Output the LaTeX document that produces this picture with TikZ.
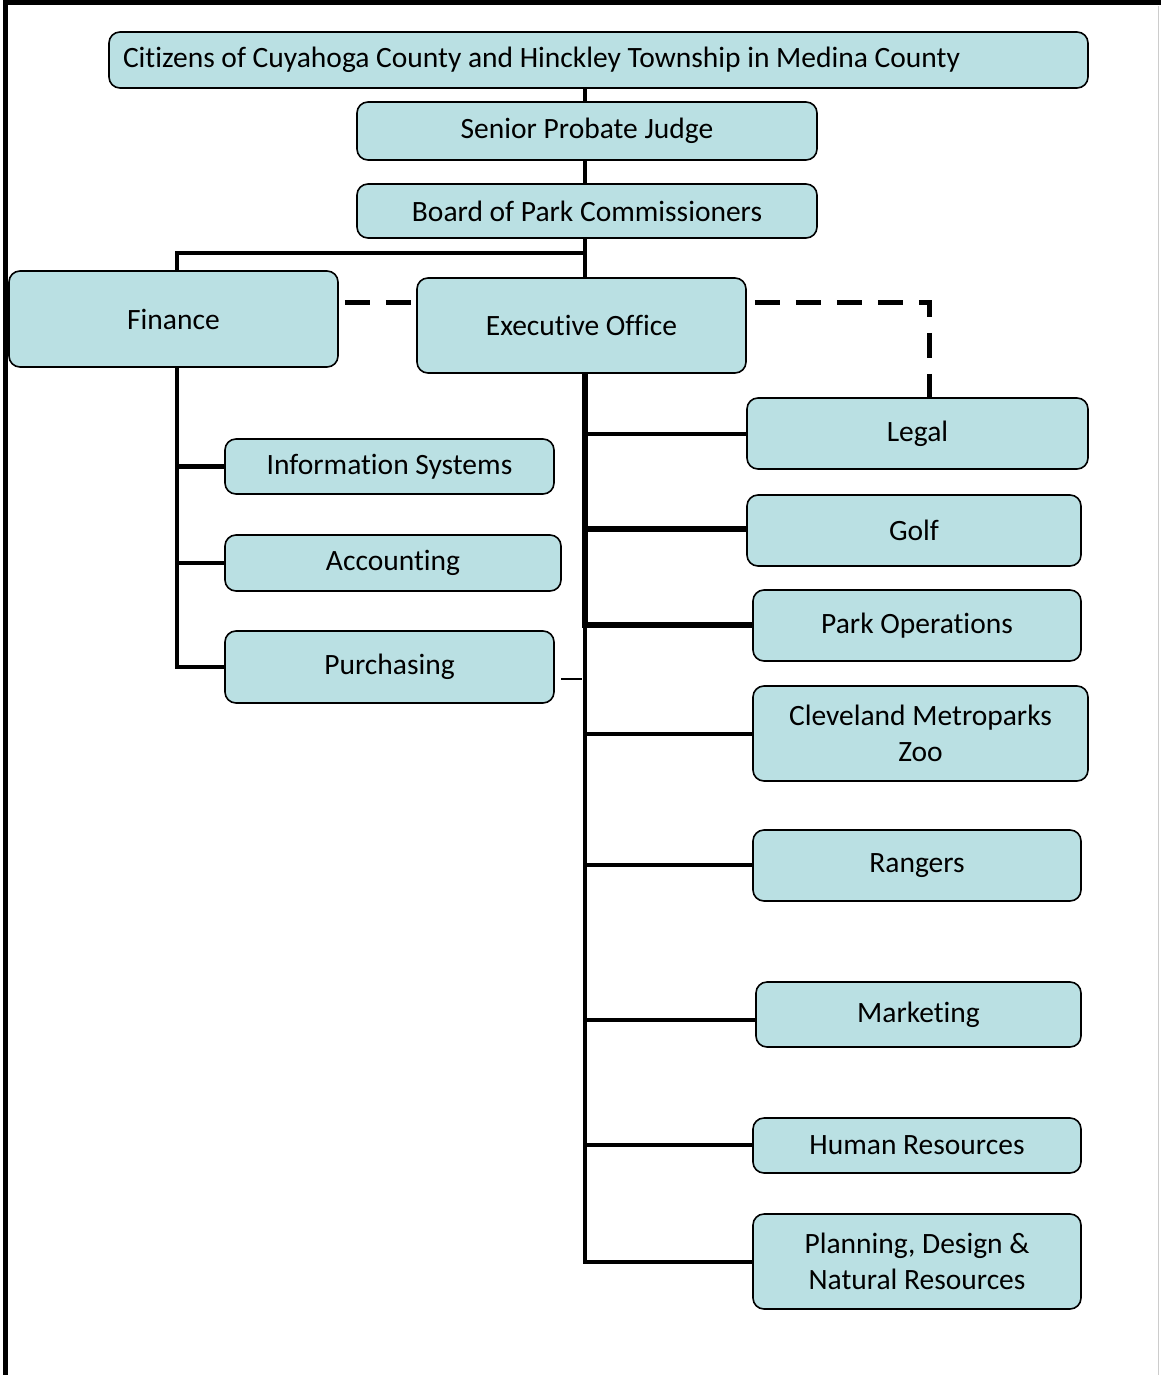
\documentclass[tikz,border=0pt]{standalone}
\usepackage{fontspec}
\setmainfont[Ligatures=NoCommon]{Carlito}
\definecolor{boxfill}{RGB}{186,224,227}
\begin{document}
\begin{tikzpicture}[x=1pt,y=-1pt,
  bx/.style={draw=black,line width=1.6pt,fill=boxfill,rounded corners=11pt,
    font=\fontsize{29.5}{35.5}\selectfont,align=center,inner sep=0pt},
  ln/.style={line width=4.5pt},
  lnk/.style={line width=6pt},
  dsh/.style={line width=5pt,dash pattern=on 25pt off 16pt}]
\useasboundingbox (0,0) rectangle (1161,1375);
% frame
\draw[line width=5pt] (5.5,1375) -- (5.5,3) -- (1161,3);
\draw[line width=1pt,black!20] (1158.5,6) -- (1158.5,1375);
% boxes
\node[bx,minimum width=979pt,minimum height=56pt] (cit) at (598.5,60) {\makebox[951pt][l]{Citizens of Cuyahoga County and Hinckley Township in Medina County}};
\node[bx,minimum width=460pt,minimum height=58pt] (spj) at (587,131) {Senior Probate Judge};
\node[bx,minimum width=460pt,minimum height=54pt] (bpc) at (587,211) {Board of Park Commissioners};
\node[bx,minimum width=329pt,minimum height=96pt] (fin) at (173.5,319) {Finance};
\node[bx,minimum width=329pt,minimum height=95pt] (exo) at (581.5,325.5) {Executive Office};
\node[bx,minimum width=329pt,minimum height=55pt] (isy) at (389.5,466.5) {Information Systems};
\node[bx,minimum width=336pt,minimum height=56pt] (acc) at (393,563) {Accounting};
\node[bx,minimum width=329pt,minimum height=72pt] (pur) at (389.5,667) {Purchasing};
\node[bx,minimum width=341pt,minimum height=71pt] (leg) at (917.5,433.5) {Legal};
\node[bx,minimum width=334pt,minimum height=71pt] (glf) at (914,530.5) {Golf};
\node[bx,minimum width=328pt,minimum height=71pt] (pop) at (917,625.5) {Park Operations};
\node[bx,minimum width=335pt,minimum height=95pt] (zoo) at (920.5,733.5) {Cleveland Metroparks\\Zoo};
\node[bx,minimum width=328pt,minimum height=71pt] (rng) at (917,865.5) {Rangers};
\node[bx,minimum width=325pt,minimum height=65pt] (mkt) at (918.5,1014.5) {Marketing};
\node[bx,minimum width=328pt,minimum height=55pt] (hr) at (917,1145.5) {Human Resources};
\node[bx,minimum width=328pt,minimum height=95pt] (pdn) at (917,1261.5) {Planning, Design \&\\Natural Resources};
% coordinates
\coordinate (top) at (585,240);
\coordinate (jf) at (585,253);
\coordinate (fx) at (177,253);
\coordinate (tb) at (585,1262);
\coordinate (dc) at (929,302);
% connectors
\draw[ln] (cit.south -| top) -- (spj.north -| top);
\draw[ln] (spj.south -| top) -- (bpc.north -| top);
\draw[ln] (bpc.south -| top) -- (exo.north -| top);
\draw[ln] (jf) -- (fx) -- (fin.north -| fx);
\draw[ln] (fin.south -| fx) |- (pur.west);
\draw[ln] (isy.west) -- (isy.west -| fx);
\draw[ln] (acc.west) -- (acc.west -| fx);
\draw[lnk] (exo.south -| top) -- (585,628);
\draw[ln] (585,620) -- (tb) -- (pdn.west |- tb);
\draw[ln] (leg.west |- 0,434) -- (585,434);
\draw[lnk] (glf.west |- 0,529) -- (585,529);
\draw[lnk] (pop.west |- 0,625) -- (585,625);
\draw[ln] (zoo.west |- 0,734) -- (585,734);
\draw[ln] (rng.west |- 0,865) -- (585,865);
\draw[ln] (mkt.west |- 0,1020) -- (585,1020);
\draw[ln] (hr.west |- 0,1145) -- (585,1145);
\draw[line width=1.2pt] (561,679) -- (582,679);
\draw[dsh] (fin.east |- 0,302) ++(6,0) -- (exo.west |- 0,302);
\draw[dsh] (exo.east |- dc) ++(8,0) -- (dc) -- (leg.north -| dc);
\end{tikzpicture}
\end{document}
